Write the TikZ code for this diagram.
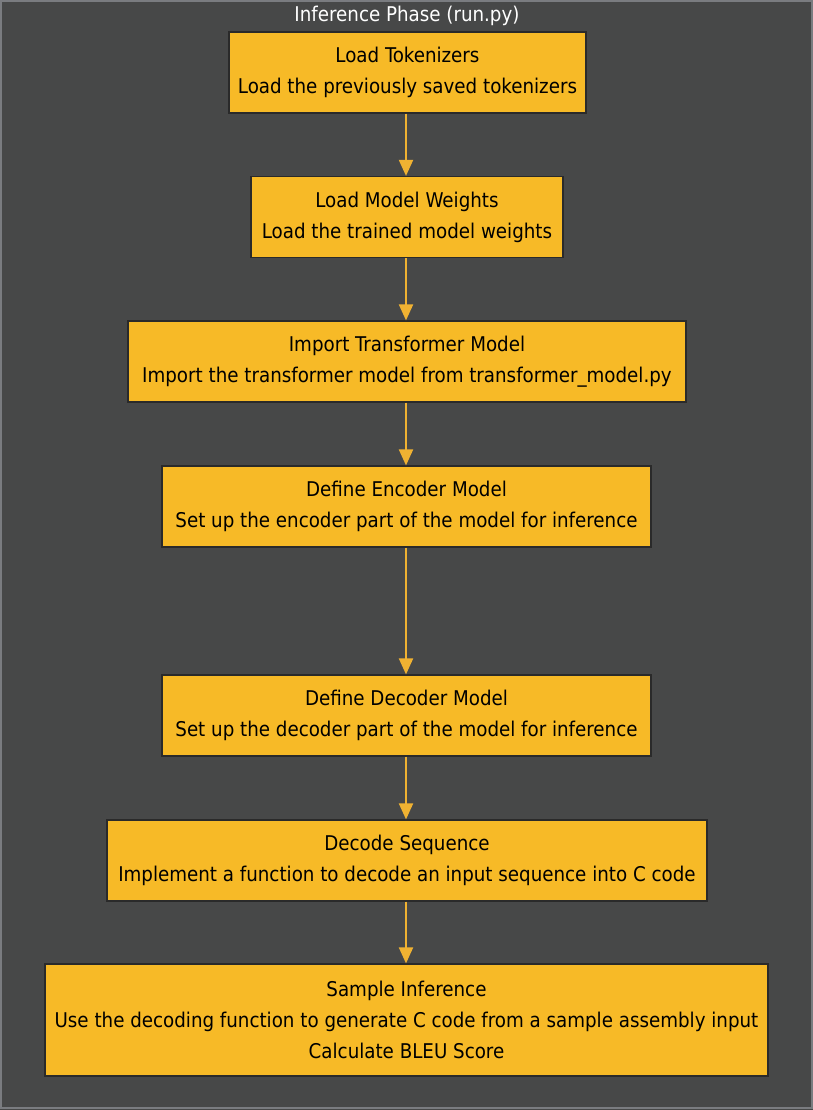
\documentclass[tikz,border=0pt]{standalone}
\usepackage{fontspec}
\setmainfont{DejaVu Sans Condensed}
\usetikzlibrary{arrows.meta}
\definecolor{bgdark}{HTML}{474848}
\definecolor{framegray}{HTML}{7A7C80}
\definecolor{boxfill}{HTML}{F7BA27}
\definecolor{boxline}{HTML}{2A2A2A}
\definecolor{flow}{HTML}{F0B232}
\tikzset{
  stepbox/.style={draw=boxline, line width=1.2pt, fill=boxfill, align=center,
    minimum height=81, inner sep=0pt, font=\fontsize{20.3}{31}\selectfont, text=black},
  flowarrow/.style={draw=flow, line width=2pt, -{Triangle[width=14pt,length=16pt]}}
}
\begin{document}
\begin{tikzpicture}[x=1pt,y=-1pt]
		\useasboundingbox (0,0) rectangle (813,1110);
		\fill[bgdark] (0,0) rectangle (813,1110);
		\draw[framegray, line width=1.5pt] (1,1) rectangle (812,1108);
		\node[text=white, font=\fontsize{20.3}{22}\selectfont] (title) at (407,16) {Inference Phase (run.py)};
		
		\node[stepbox, minimum width=357] (tok) at (407.5,72.5) {Load Tokenizers\\Load the previously saved tokenizers};
		\node[stepbox, minimum width=312] (wts) at (407,217) {Load Model Weights\\Load the trained model weights};
		\node[stepbox, minimum width=558] (imp) at (407,361.5) {Import Transformer Model\\Import the transformer model from transformer\_model.py};
		\node[stepbox, minimum width=489] (enc) at (406.5,506.5) {Define Encoder Model\\Set up the encoder part of the model for inference};
		\node[stepbox, minimum width=489] (dec) at (406.5,715.5) {Define Decoder Model\\Set up the decoder part of the model for inference};
		\node[stepbox, minimum width=600] (seq) at (407,860.5) {Decode Sequence\\Implement a function to decode an input sequence into C code};
		\node[stepbox, minimum width=723, minimum height=112] (smp) at (406.5,1020) {Sample Inference\\Use the decoding function to generate C code from a sample assembly input\\Calculate BLEU Score};
		
		\foreach \a/\b in {tok/wts, wts/imp, imp/enc, enc/dec, dec/seq, seq/smp}
			\draw[flowarrow] (\a.south -| 406,0) -- (\b.north -| 406,0);
		\end{tikzpicture}
\end{document}
